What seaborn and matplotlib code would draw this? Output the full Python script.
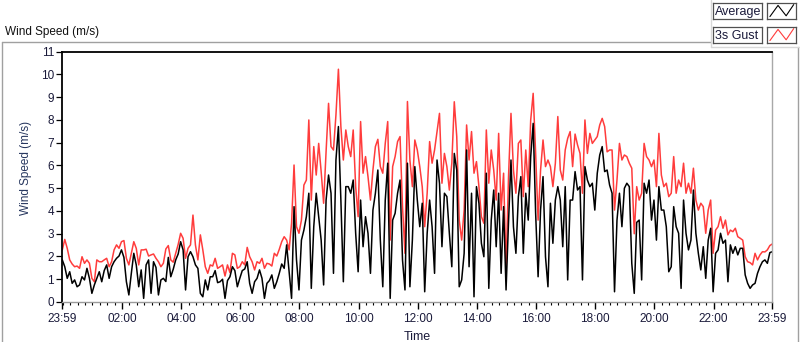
import numpy as np
import matplotlib
matplotlib.use('Agg')
import matplotlib.pyplot as plt
import seaborn as sns
from matplotlib.lines import Line2D
from matplotlib.ticker import FixedLocator

# 3 s gust (red), one value every 5 minutes from 23:59 to 23:59
gust = [
    2.29, 2.75, 2.36, 1.85, 1.67, 1.55, 1.58, 1.48, 1.99, 1.70,
    1.85, 1.70, 1.04, 0.89, 1.85, 1.77, 1.77, 1.85, 1.92, 1.55,
    1.77, 2.29, 2.51, 2.36, 2.65, 2.70, 1.92, 1.63, 2.14, 2.65,
    2.36, 1.63, 2.29, 2.29, 2.32, 2.02, 2.07, 2.11, 1.92, 1.77,
    1.55,
    1.70, 2.33, 2.48, 1.85, 1.75, 2.14, 2.53, 3.02, 2.80, 1.92,
    2.36, 2.51, 3.82, 2.51, 1.85, 2.95, 2.29, 1.55, 1.26, 1.63,
    1.58, 1.92, 1.48, 1.55, 1.63, 1.14, 1.63, 1.29, 2.14, 2.07,
    1.48, 1.55, 1.77, 1.63, 2.40, 1.99, 1.77, 1.41, 1.77, 1.70,
    1.92,
    1.48, 1.70, 1.67, 1.58, 2.14, 2.02, 2.31, 2.65, 2.87, 2.72,
    2.29, 3.46, 6.02, 3.31, 3.02, 3.60, 5.14, 5.36, 8.00, 4.48,
    6.83, 5.58, 6.97, 5.73, 4.34, 6.61, 8.73, 6.83, 6.68, 8.22,
    10.23, 7.71, 6.24, 7.56, 6.83, 6.39, 7.56, 5.07, 3.75, 7.93,
    5.66, 6.39, 5.51, 4.48, 5.80, 6.83, 7.15, 5.95, 5.66, 6.97,
    7.93, 2.72, 5.95, 6.39, 7.05, 7.27, 4.19, 2.14, 8.81, 6.24,
    5.07, 7.12, 6.68, 5.95, 5.07, 3.31, 4.78, 7.05, 6.10, 6.68,
    7.49, 8.29, 5.22, 6.53, 5.95, 4.92, 6.10, 8.80, 7.27, 3.60,
    2.72,
    4.04, 7.78, 6.24, 7.49, 5.66, 6.17, 5.07, 3.75, 3.46, 7.56,
    5.22, 6.68, 5.80, 4.48, 7.41, 4.04, 5.66, 1.40, 5.50, 8.29,
    5.80, 4.78, 6.97, 7.12, 4.63, 6.68, 5.07, 8.00, 9.17, 6.53,
    3.60, 5.80, 7.12, 5.95, 6.24, 5.95, 5.07, 6.10, 8.15, 5.80,
    5.36, 6.68, 7.19, 7.49, 5.95, 7.38, 6.90, 6.53, 4.78, 8.00,
    6.53, 7.41, 6.97, 7.12, 7.27, 7.78, 8.07, 7.71, 6.60, 6.68,
    6.68, 4.04, 5.36, 6.97, 6.24, 6.46, 6.39, 6.10, 5.88, 3.00,
    5.07, 4.48, 4.78, 6.97, 6.39, 6.24, 5.95, 6.24, 5.07, 7.41,
    5.58,
    5.07, 5.22, 4.63, 4.78, 6.39, 4.78, 5.36, 5.07, 6.10, 4.78,
    5.22, 4.78, 5.88, 4.48, 4.04, 4.34, 4.19, 3.02, 4.04, 4.48,
    2.14, 3.16, 3.31, 3.75, 3.24, 3.60, 2.95, 3.16, 3.09, 3.24,
    2.87, 2.80, 2.72, 1.99, 1.77, 1.73, 1.63, 2.14, 1.85, 2.07,
    2.21, 2.20, 2.29, 2.48, 2.55,
]

# average wind speed (black)
average = [
    1.85, 1.55, 1.04, 1.33, 0.82, 0.97, 0.67, 0.75, 1.11, 0.97,
    1.48, 1.04, 0.38, 0.75, 1.04, 1.33, 0.89, 1.38, 1.63, 1.04,
    1.55, 1.77, 1.92, 2.02, 2.29, 1.96, 0.89, 0.31, 1.26, 2.14,
    1.63, 0.67, 1.41, 0.16, 1.63, 1.85, 0.38, 1.77, 1.52, 0.31,
    0.97,
    1.04, 0.90, 1.96, 1.11, 1.44, 1.85, 2.11, 2.65, 2.29, 0.53,
    1.99, 2.21, 1.99, 1.63, 1.48, 0.38, 0.23, 0.97, 0.53, 1.11,
    1.11, 1.38, 0.85, 0.89, 1.00, 0.16, 0.94, 1.11, 1.55, 1.38,
    0.67, 1.04, 1.38, 1.45, 1.77, 0.82, 0.38, 0.89, 1.04, 1.41,
    1.04,
    0.16, 0.82, 0.94, 1.19, 0.60, 0.89, 1.26, 1.67, 1.48, 2.51,
    1.33, 0.16, 4.19, 1.85, 0.53, 2.72, 3.16, 3.75, 4.78, 0.60,
    3.31, 4.78, 3.75, 2.72, 0.75, 4.48, 5.58, 4.78, 1.26, 6.24,
    7.71, 4.48, 0.89, 5.07, 5.07, 4.78, 5.36, 3.02, 1.33, 4.48,
    2.43, 3.75, 3.02, 1.26, 4.04, 4.78, 5.80, 2.72, 0.67, 4.48,
    6.10, 0.16, 3.60, 3.90, 4.78, 5.36, 1.85, 0.53, 6.10, 0.67,
    2.72, 5.95, 4.48, 3.31, 4.34, 0.45, 3.02, 4.48, 3.31, 1.26,
    6.24, 5.22, 2.43, 4.78, 4.63, 3.02, 1.55, 6.53, 5.80, 0.67,
    0.97,
    2.14, 6.68, 1.55, 4.78, 0.23, 5.07, 4.34, 2.58, 1.99, 5.66,
    0.60, 3.60, 4.92, 2.43, 4.78, 1.26, 4.19, 0.53, 3.50, 6.24,
    3.31, 2.14, 4.63, 5.51, 2.14, 4.78, 3.60, 6.39, 7.85, 3.90,
    1.11, 4.04, 5.51, 1.99, 0.67, 4.34, 2.58, 4.48, 5.07, 4.48,
    2.43, 5.07, 0.97, 4.48, 4.48, 5.73, 4.92, 5.07, 0.97, 5.95,
    5.36, 5.07, 5.22, 4.04, 5.66, 6.46, 6.83, 5.73, 5.80, 5.14,
    4.78, 0.45, 3.60, 4.78, 3.31, 5.00, 5.22, 5.07, 1.70, 0.38,
    3.50, 3.60, 0.97, 5.22, 4.78, 5.36, 3.60, 4.48, 2.72, 5.07,
    4.04,
    4.04, 3.31, 1.33, 1.55, 4.19, 3.31, 3.02, 0.60, 4.48, 3.02,
    2.29, 2.72, 4.92, 3.02, 2.14, 1.41, 2.43, 1.04, 2.72, 3.24,
    0.45, 2.14, 2.29, 3.02, 2.58, 2.72, 0.89, 2.51, 2.14, 2.43,
    2.07, 2.36, 2.36, 1.19, 0.82, 0.60, 0.75, 0.82, 1.26, 1.55,
    1.77, 1.85, 1.70, 2.17, 2.21,
]

# minutes after 23:59
minutes = np.arange(0, 1441, 5)
tick_labels = ['23:59', '02:00', '04:00', '06:00', '08:00', '10:00', '12:00',
               '14:00', '16:00', '18:00', '20:00', '22:00', '23:59']
tick_pos = [0] + [h * 60 + 1 for h in range(2, 23, 2)] + [1440]

sns.set_theme(style='white')
plt.rcParams['font.family'] = ['Liberation Sans', 'DejaVu Sans']

W, H = 800, 342
fig = plt.figure(figsize=(W / 100, H / 100), dpi=100)
ax = fig.add_axes([62.3 / W, 1 - 302 / H, 710 / W, 250.3 / H])

sns.lineplot(x=minutes, y=gust, color='#ff3c3c', linewidth=1.1, ax=ax, errorbar=None)
sns.lineplot(x=minutes, y=average, color='black', linewidth=1.1, ax=ax, errorbar=None)

ax.set_xlim(0, 1440)
ax.set_ylim(0, 11)
ax.set_yticks(range(12))
ax.set_xticks(tick_pos)
ax.set_xticklabels(tick_labels)
ax.xaxis.set_minor_locator(FixedLocator(list(range(1, 1440, 15))))

txt = '#1a1a3a'
ax.tick_params(axis='both', which='both', direction='out', colors='black',
               labelcolor=txt, labelsize=8.5, left=True, bottom=True)
ax.tick_params(axis='y', length=4, width=0.9, pad=2)
ax.tick_params(axis='x', which='major', length=5, width=1.0, pad=3)
ax.tick_params(axis='x', which='minor', length=2.5, width=0.8)

for side, col, lw in [('top', 'black', 1.3), ('left', 'black', 1.3),
                      ('right', '#a8a8a8', 1.0), ('bottom', '#9a9a9a', 1.0)]:
    ax.spines[side].set_visible(True)
    ax.spines[side].set_color(col)
    ax.spines[side].set_linewidth(lw)

ax.set_xlabel('Time', fontsize=9, color=txt, labelpad=4)
ax.set_ylabel('Wind Speed (m/s)', fontsize=8.5, color='#26365e')
ax.yaxis.set_label_coords(-0.043, 0.535)
ax.grid(False)

# outer frame of the chart panel
frame = '#a0a0a0'
fig.add_artist(Line2D([1.5 / W, 711 / W], [1 - 42 / H, 1 - 42 / H], color=frame, lw=1))
fig.add_artist(Line2D([1.5 / W, 1.5 / W], [1 - 42 / H, 0], color=frame, lw=1))
fig.add_artist(Line2D([798 / W, 798 / W], [1 - 47 / H, 0], color=frame, lw=1))
fig.add_artist(Line2D([711 / W, 711 / W], [1, 1 - 47 / H], color='#d8d8d8', lw=1))
fig.add_artist(Line2D([711 / W, 1], [1 - 47 / H, 1 - 47 / H], color='#d8d8d8', lw=1))

fig.text(5 / W, 1 - 32 / H, 'Wind Speed (m/s)', fontsize=8.5, color='#111111', va='center')

# legend
for label, col, ytop in [('Average', 'black', 3), ('3s Gust', '#ff3c3c', 27)]:
    tax = fig.add_axes([713 / W, 1 - (ytop + 16) / H, 49 / W, 16 / H])
    iax = fig.add_axes([767 / W, 1 - (ytop + 16) / H, 29 / W, 16 / H])
    for a in (tax, iax):
        a.set_xticks([])
        a.set_yticks([])
        a.set_facecolor('white')
        a.set_xlim(0, 1)
        a.set_ylim(0, 1)
        for s in a.spines.values():
            s.set_visible(True)
            s.set_color('#505050')
            s.set_linewidth(0.9)
    tax.text(0.04, 0.45, label, fontsize=9, color=txt, va='center', ha='left')
    iax.plot([0.1, 0.38, 0.66, 0.92], [0.15, 0.85, 0.2, 0.9], color=col, lw=0.8)

fig.savefig('out.png', dpi=100)
